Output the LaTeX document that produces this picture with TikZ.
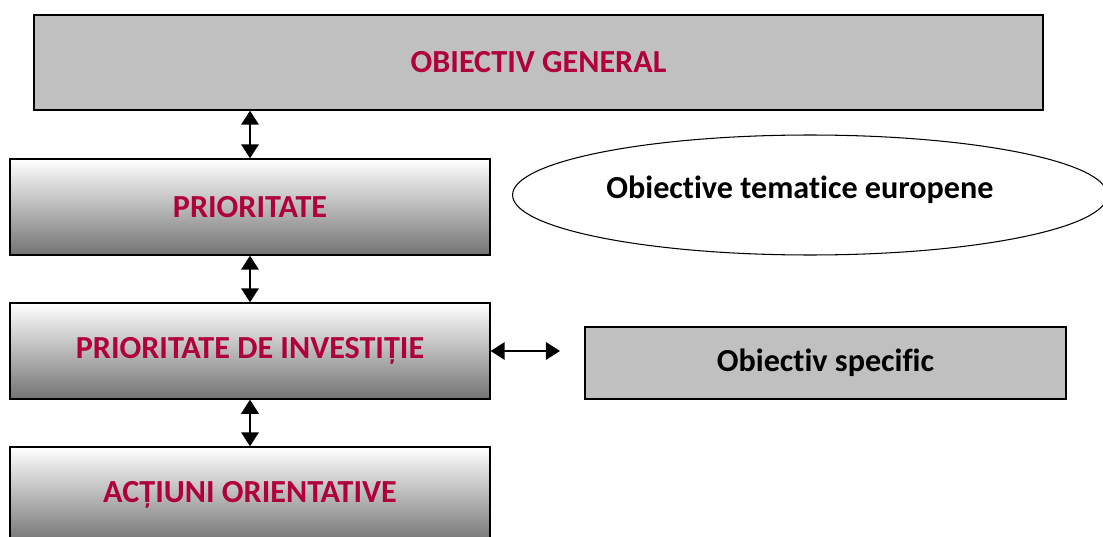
\documentclass[tikz,border=0pt]{standalone}
\usepackage{fontspec}
\setmainfont{Carlito}[Ligatures={NoCommon}]
\usepackage{tikz}
\usetikzlibrary{arrows.meta, positioning, shapes.geometric}
\usepackage{xcolor}
\definecolor{titlered}{RGB}{176,0,58}
\definecolor{boxgray}{RGB}{192,192,192}

\tikzset{
  labelfont/.style={font=\fontsize{18.3}{22}\selectfont\bfseries},
  flatbox/.style={draw, line width=0.8pt, fill=boxgray, labelfont},
  shadebox/.style={draw, line width=0.8pt, top color=white, bottom color=black!55,
    minimum width=9.6cm, minimum height=1.92cm, text=titlered, labelfont},
  link/.style={line width=0.9pt, {Triangle[length=8pt,width=10pt]}-{Triangle[length=8pt,width=10pt]}}
}

\begin{document}
\begin{tikzpicture}[x=0.02cm,y=-0.02cm]
  \useasboundingbox (0,0) rectangle (1103,537);
  \node[flatbox, text=titlered, minimum width=20.18cm, minimum height=1.9cm] (general) at (538.5,62.5) {OBIECTIV GENERAL};
  \node[shadebox] (prio) at (250,207) {PRIORITATE};
  \node[shadebox] (invest) at (250,351) {PRIORITATE DE INVESTIȚIE};
  \node[shadebox] (actiuni) at (250,495) {ACȚIUNI ORIENTATIVE};
  \node[draw, ellipse, line width=0.6pt, minimum width=11.9cm, minimum height=2.4cm,
    label={[labelfont, xshift=-0.2cm, yshift=0.1cm]center:Obiective tematice europene}] (teme) at (810,195) {};
  \node[flatbox, minimum width=9.62cm, minimum height=1.44cm] (specific) at (825.5,363) {Obiectiv specific};
  \coordinate (capat) at (560,351);
  % legaturi
  \draw[link] (general.south -| prio.north) -- (prio.north);
  \draw[link] (prio.south) -- (invest.north);
  \draw[link] (invest.south) -- (actiuni.north);
  \draw[link] (invest.east) -- (capat);
\end{tikzpicture}
\end{document}
